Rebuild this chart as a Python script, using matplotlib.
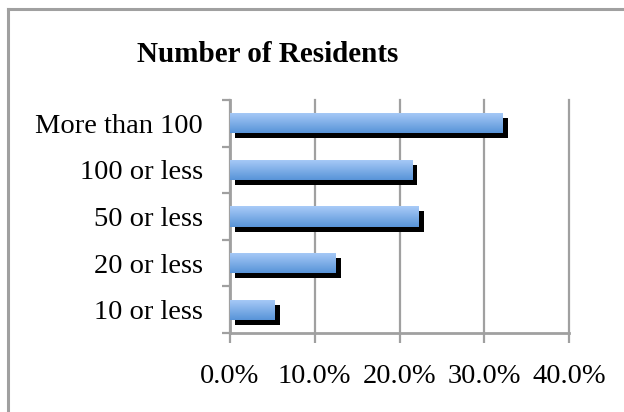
import numpy as np
import matplotlib
matplotlib.use("Agg")
import matplotlib.pyplot as plt
from matplotlib import transforms
from matplotlib.ticker import FuncFormatter, FixedLocator

categories = ["10 or less", "20 or less", "50 or less", "100 or less", "More than 100"]
shares = [5.3, 12.5, 22.3, 21.5, 32.2]
x_ticks = [0, 10, 20, 30, 40]

plt.rcParams['font.family'] = ['Liberation Serif', 'DejaVu Serif']

fig = plt.figure(figsize=(6.24, 4.12), dpi=100)
# outer chart border (only left/top visible in the crop)
fig.add_artist(plt.Line2D([8 / 624, 8 / 624], [0, 1 - 9 / 412], transform=fig.transFigure,
                          color="#a0a0a0", lw=2.2))
fig.add_artist(plt.Line2D([8 / 624, 1], [1 - 9 / 412, 1 - 9 / 412], transform=fig.transFigure,
                          color="#a0a0a0", lw=2.2))

ax = fig.add_axes([230 / 624, 1 - 333 / 412, 339 / 624, 233 / 412])
y = np.arange(len(categories))
h = 0.43

# shadow
shadow = transforms.offset_copy(ax.transData, fig=fig, x=5, y=-5, units="dots")
ax.barh(y, shares, height=h, color="black", transform=shadow, zorder=2)

# gradient bars
grad = np.linspace(0, 1, 64).reshape(-1, 1)
cmap = matplotlib.colors.LinearSegmentedColormap.from_list("g", ["#5894d8", "#a9cbf8"])
bars = ax.barh(y, shares, height=h, color="#7eb0ec", zorder=3)
for b in bars:
    x0, y0 = b.get_x(), b.get_y()
    im = ax.imshow(grad, cmap=cmap, aspect="auto", origin="lower",
                   extent=[x0, x0 + b.get_width(), y0, y0 + b.get_height()], zorder=3.5)
    im.set_clip_path(b)

ax.set_xlim(0, 40)
ax.set_ylim(-0.5, len(categories) - 0.5)

ax.xaxis.set_major_locator(FixedLocator(x_ticks))
ax.xaxis.set_major_formatter(FuncFormatter(lambda v, p: "%.1f%%" % v))
ax.set_yticks(y)
ax.set_yticklabels(categories)
ax.yaxis.set_minor_locator(FixedLocator(np.arange(-0.5, len(categories), 1.0)))

ax.grid(axis="x", color="#a0a0a0", lw=1.6, zorder=1)
for gl in ax.get_xgridlines():
    gl.set_clip_on(False)
ax.set_axisbelow(True)
for s in ["top", "right"]:
    ax.spines[s].set_visible(False)
for s in ["left", "bottom"]:
    ax.spines[s].set_color("#a0a0a0")
    ax.spines[s].set_linewidth(2)

ax.tick_params(axis="x", length=7, width=1.6, color="#a0a0a0", labelsize=20.5, pad=15)
ax.tick_params(axis="y", which="major", length=0, labelsize=20.5, pad=19.5)
ax.tick_params(axis="y", which="minor", length=6, width=1.6, color="#a0a0a0")

fig.text(268 / 624, 1 - 54 / 412, "Number of Residents", ha="center", va="center",
         fontsize=21, fontweight="bold")

fig.savefig("out.png", dpi=100)
